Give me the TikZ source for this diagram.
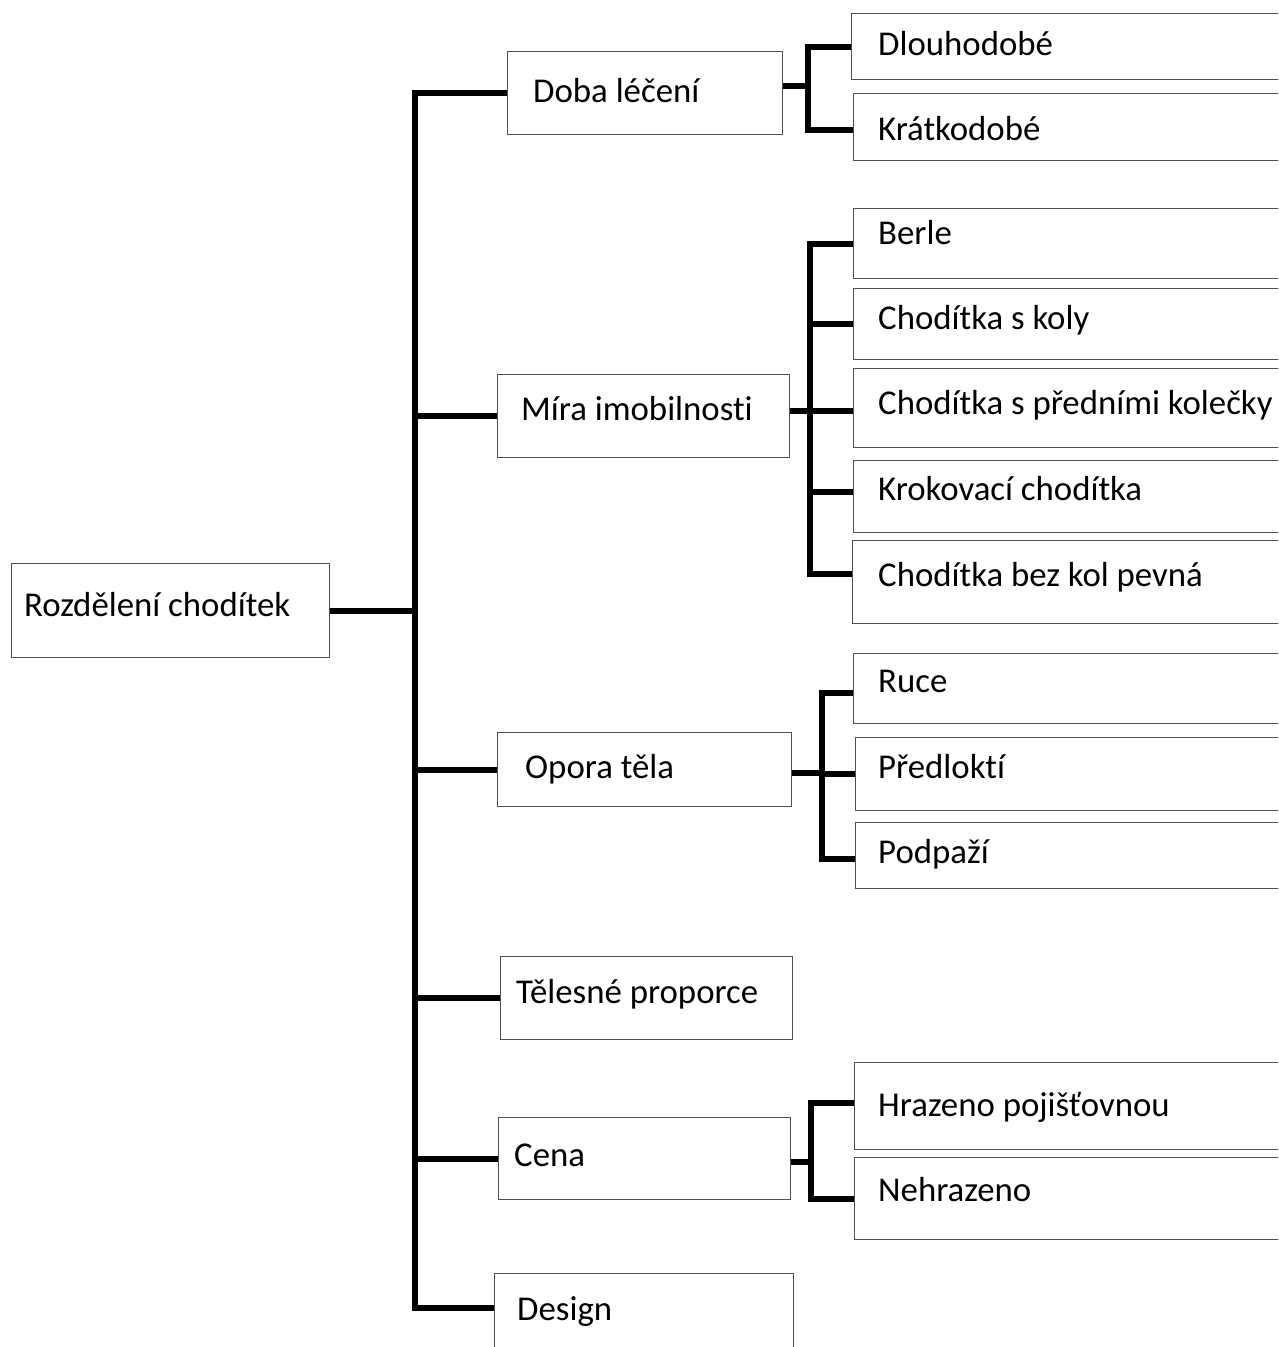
\documentclass[tikz,border=0pt]{standalone}
\usepackage{fontspec}
\setmainfont[Ligatures=NoCommon]{Carlito}
\definecolor{boxgray}{HTML}{505050}
\begin{document}
\begin{tikzpicture}[x=1pt,y=-1pt,
  box/.style={draw=boxgray, line width=1.4pt, anchor=north west, inner sep=0pt, fill=white},
  lbl/.style={anchor=base west, inner sep=0pt, font=\fontsize{34.8}{40}\selectfont},
  conn/.style={line width=5.8pt, black}]
\useasboundingbox (0,0) rectangle (1278,1347);
\clip (0,0) rectangle (1278,1347);
\fill[white] (0,0) rectangle (1278,1347);

% root
\node[box, minimum width=318pt, minimum height=94pt] (root) at (11,563) {};
\node[lbl] (troot) at (24,616) {Rozdělení chodítek};

% level 1
\node[box, minimum width=275pt, minimum height=83pt] (b1) at (507,51) {};
\node[lbl] (tb1) at (533,102) {Doba léčení};
\node[box, minimum width=292pt, minimum height=83pt] (b2) at (497,374) {};
\node[lbl] (tb2) at (521,420) {Míra imobilnosti};
\node[box, minimum width=294pt, minimum height=74pt] (b3) at (497,732) {};
\node[lbl] (tb3) at (525,778) {Opora těla};
\node[box, minimum width=292pt, minimum height=83pt] (b4) at (500,956) {};
\node[lbl] (tb4) at (516,1003) {Tělesné proporce};
\node[box, minimum width=292pt, minimum height=82pt] (b5) at (498,1117) {};
\node[lbl] (tb5) at (514,1166) {Cena};
\node[box, minimum width=299pt, minimum height=90pt] (b6) at (494,1273) {};
\node[lbl] (tb6) at (517,1320) {Design};

% leaves
\node[box, minimum width=440pt, minimum height=66pt] (l11) at (851,13) {};
\node[lbl] (tl11) at (878,55) {Dlouhodobé};
\node[box, minimum width=440pt, minimum height=67pt] (l12) at (853,93) {};
\node[lbl] (tl12) at (878,140) {Krátkodobé};

\node[box, minimum width=440pt, minimum height=70pt] (l21) at (853,208) {};
\node[lbl] (tl21) at (878,244) {Berle};
\node[box, minimum width=440pt, minimum height=71pt] (l22) at (853,288) {};
\node[lbl] (tl22) at (878,329) {Chodítka s koly};
\node[box, minimum width=440pt, minimum height=79pt] (l23) at (853,368) {};
\node[lbl] (tl23) at (878,414) {Chodítka s předními kolečky};
\node[box, minimum width=440pt, minimum height=72pt] (l24) at (853,460) {};
\node[lbl] (tl24) at (878,500) {Krokovací chodítka};
\node[box, minimum width=440pt, minimum height=83pt] (l25) at (852,540) {};
\node[lbl] (tl25) at (878,586) {Chodítka bez kol pevná};

\node[box, minimum width=440pt, minimum height=70pt] (l31) at (853,653) {};
\node[lbl] (tl31) at (878,692) {Ruce};
\node[box, minimum width=440pt, minimum height=73pt] (l32) at (855,737) {};
\node[lbl] (tl32) at (878,778) {Předloktí};
\node[box, minimum width=440pt, minimum height=66pt] (l33) at (855,822) {};
\node[lbl] (tl33) at (878,863) {Podpaží};

\node[box, minimum width=440pt, minimum height=87pt] (l41) at (854,1062) {};
\node[lbl] (tl41) at (878,1116) {Hrazeno pojišťovnou};
\node[box, minimum width=440pt, minimum height=82pt] (l42) at (854,1157) {};
\node[lbl] (tl42) at (878,1201) {Nehrazeno};

% connection points on leaf edges
\coordinate (c11) at (l11.west);
\coordinate (c12) at ([yshift=-3pt]l12.west);
\coordinate (c21) at (l21.west);
\coordinate (c22) at (l22.west);
\coordinate (c23) at ([yshift=-3pt]l23.west);
\coordinate (c24) at ([yshift=5pt]l24.west);
\coordinate (c25) at ([yshift=8pt]l25.west);
\coordinate (c31) at ([yshift=-4pt]l31.west);
\coordinate (c32) at (l32.west);
\coordinate (c33) at ([yshift=-3pt]l33.west);
\coordinate (c41) at ([yshift=3pt]l41.west);
\coordinate (c42) at (l42.west);

% trunk
\coordinate (tt) at (415,93);
\coordinate (tb) at (415,1308);
\draw[conn] (b1.west) -| (tb) -- (b6.west |- tb);
\draw[conn] (root.east) -- (root.east -| tt);
\draw[conn] (b2.west -| tt) -- (b2.west);
\draw[conn] (b3.west -| tt) -- (b3.west);
\draw[conn] (b4.west -| tt) -- (b4.west);
\draw[conn] (b5.west -| tt) -- (b5.west);

% group 1
\coordinate (j1) at (808,86);
\draw[conn] (b1.east |- j1) -- (j1);
\draw[conn] (c11) -| (j1 |- c12) -- (c12);

% group 2
\coordinate (j2) at (810,411);
\draw[conn] (b2.east |- j2) -- (j2);
\draw[conn] (c21) -| (j2 |- c25) -- (c25);
\draw[conn] (j2 |- c22) -- (c22);
\draw[conn] (j2 |- c23) -- (c23);
\draw[conn] (j2 |- c24) -- (c24);

% group 3
\coordinate (j3) at (822,773);
\draw[conn] (b3.east |- j3) -- (j3);
\draw[conn] (c31) -| (j3 |- c33) -- (c33);
\draw[conn] (j3 |- c32) -- (c32);

% group 4
\coordinate (j4) at (811,1162);
\draw[conn] (b5.east |- j4) -- (j4);
\draw[conn] (c41) -| (j4 |- c42) -- (c42);
\end{tikzpicture}
\end{document}
